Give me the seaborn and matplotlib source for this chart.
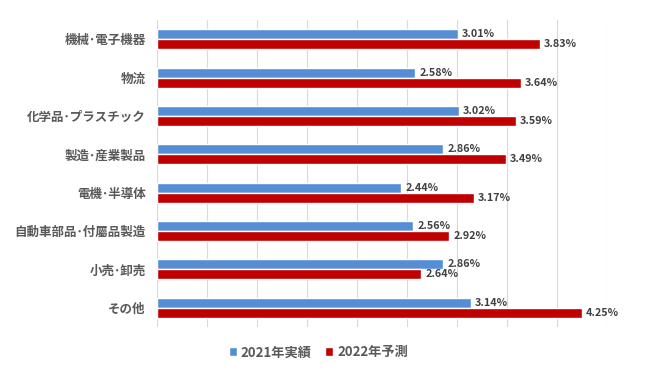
import matplotlib
matplotlib.use("Agg")
import matplotlib.pyplot as plt
import pandas as pd
import seaborn as sns

# データ
categories = [
    "機械･電子機器",
    "物流",
    "化学品･プラスチック",
    "製造･産業製品",
    "電機･半導体",
    "自動車部品･付屬品製造",
    "小売･卸売",
    "その他",
]
series_names = ["2021年実績", "2022年予測"]
values_2021 = [3.01, 2.58, 3.02, 2.86, 2.44, 2.56, 2.86, 3.14]
values_2022 = [3.83, 3.64, 3.59, 3.49, 3.17, 2.92, 2.64, 4.25]

colors = ["#558ED5", "#C00000"]

df = pd.DataFrame({
    "category": categories * 2,
    "series": [series_names[0]] * len(categories) + [series_names[1]] * len(categories),
    "value": values_2021 + values_2022,
})

sns.set_theme(style="white")
plt.rcParams["font.family"] = ["Noto Sans CJK JP", "DejaVu Sans"]

fig = plt.figure(figsize=(6.5, 3.74), dpi=100)
ax = fig.add_axes([0.2415, 0.1257, 0.6923, 0.8208])

sns.barplot(
    data=df, y="category", x="value", hue="series",
    order=categories, hue_order=series_names,
    palette=colors, orient="h", width=0.52,
    saturation=1, ax=ax, legend=True,
)

# データラベル
for cont in ax.containers:
    labels = [f"{v:.2f}%" for v in cont.datavalues]
    ax.bar_label(cont, labels=labels, padding=3, fontsize=7.8,
                 fontweight="bold", color="#404040")

ax.set_xlim(0, 4.5)
ax.set_ylim(len(categories) - 0.5, -0.5)
ax.set_xticks([i * 0.5 for i in range(10)])
ax.set_xticklabels([])
ax.tick_params(axis="x", length=0)
ax.tick_params(axis="y", length=0, pad=8, labelsize=9, labelcolor="#595959")
for lbl in ax.get_yticklabels():
    lbl.set_fontweight("bold")
ax.grid(axis="x", color="#D9D9D9", linewidth=0.8)
ax.set_axisbelow(True)
for s in ax.spines.values():
    s.set_visible(False)
ax.set_xlabel("")
ax.set_ylabel("")

handles, labels = ax.get_legend_handles_labels()
ax.get_legend().remove()
fig.legend(handles, labels, loc="center", bbox_to_anchor=(0.49, 0.058),
           ncol=2, frameon=False, handlelength=0.6, handleheight=0.6,
           handletextpad=0.3, columnspacing=1.0,
           prop={"size": 9.5, "weight": "bold"}, labelcolor="#595959")

fig.savefig("out.png", dpi=100)
